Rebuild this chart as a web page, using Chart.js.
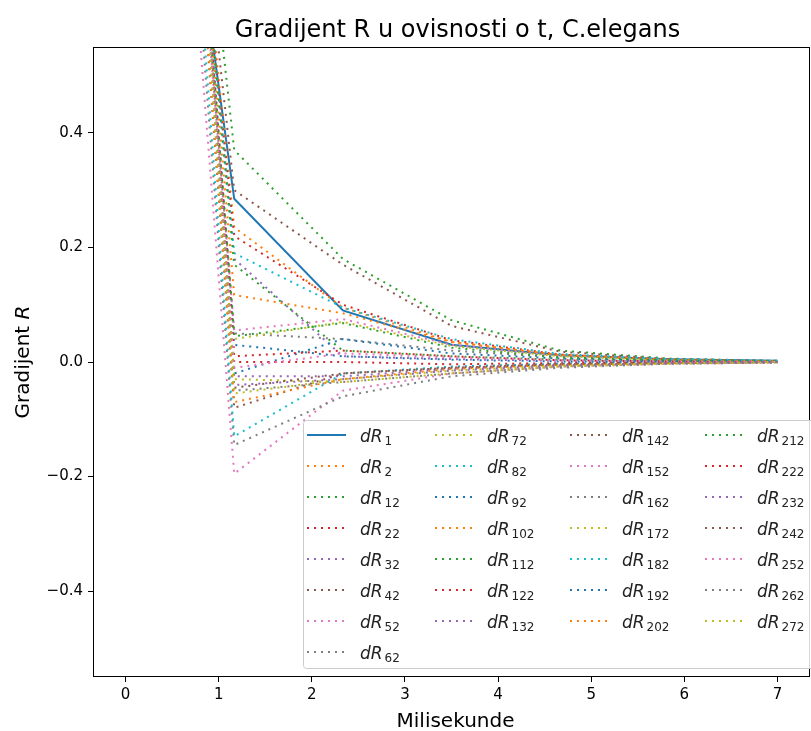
<!DOCTYPE html>
<html>
<head>
<meta charset="utf-8">
<script src="https://cdn.jsdelivr.net/npm/chart.js@4/dist/chart.umd.min.js"></script>
<style>
  html, body { margin: 0; padding: 0; background: #fff; }
  #wrap { width: 811px; height: 731px; }
</style>
</head>
<body>
<div id="wrap"><canvas id="chart" width="811" height="731"></canvas></div>
<script>
// time points (ms)
const times = [0, 1.1667, 2.3333, 3.5, 4.6667, 5.8333, 7];
const subscripts = ['1', '2', '12', '22', '32', '42', '52', '62', '72', '82',
    '92', '102', '112', '122', '132', '142', '152', '162', '172', '182',
    '192', '202', '212', '222', '232', '242', '252', '262', '272'];
const xTicks = [0, 1, 2, 3, 4, 5, 6, 7];
const yTicks = [-0.4, -0.2, 0, 0.2, 0.4];

const dR1   = [1.66, 0.285, 0.09, 0.03, 0.012, 0.005, 0.002];
const dR2   = [2.05, 0.235, 0.095, 0.035, 0.012, 0.004, 0.001];
const dR12  = [2.1, 0.37, 0.18, 0.073, 0.02, 0.006, 0.002];
const dR22  = [2.0, 0.22, 0.10, 0.038, 0.013, 0.004, 0.001];
const dR32  = [2.2, 0.18, 0.01, 0.005, 0.002, 0.001, 0.0];
const dR42  = [2.0, 0.30, 0.17, 0.063, 0.018, 0.005, 0.002];
const dR52  = [2.3, 0.055, 0.075, 0.03, 0.01, 0.003, 0.001];
const dR62  = [2.4, 0.05, 0.04, 0.02, 0.008, 0.003, 0.001];
const dR72  = [2.5, 0.04, 0.07, 0.028, 0.01, 0.003, 0.001];
const dR82  = [2.1, 0.19, 0.095, 0.04, 0.014, 0.005, 0.002];
const dR92  = [2.6, -0.02, 0.04, 0.015, 0.006, 0.002, 0.001];
const dR102 = [2.3, 0.117, 0.085, 0.035, 0.012, 0.004, 0.001];
const dR112 = [2.2, 0.17, 0.02, 0.01, 0.004, 0.001, 0.0];
const dR122 = [2.6, 0.0, 0.0, -0.004, -0.002, -0.001, 0.0];
const dR132 = [2.7, -0.025, -0.025, -0.012, -0.005, -0.002, 0.0];
const dR142 = [2.5, -0.08, -0.02, -0.01, -0.004, -0.001, 0.0];
const dR152 = [2.2, -0.195, -0.05, -0.02, -0.008, -0.003, -0.001];
const dR162 = [2.3, -0.145, -0.06, -0.025, -0.01, -0.003, -0.001];
const dR172 = [2.7, -0.03, -0.035, -0.02, -0.008, -0.003, -0.001];
const dR182 = [2.4, -0.13, -0.02, -0.008, -0.003, -0.001, 0.0];
const dR192 = [2.6, 0.03, 0.01, 0.004, 0.001, 0.0, 0.0];
const dR202 = [2.5, -0.07, -0.03, -0.012, -0.005, -0.002, 0.0];
const dR212 = [2.5, 0.045, 0.068, 0.025, 0.008, 0.003, 0.001];
const dR222 = [2.6, 0.01, 0.02, 0.01, 0.003, 0.001, 0.0];
const dR232 = [2.6, -0.04, -0.03, -0.015, -0.006, -0.002, 0.0];
const dR242 = [2.6, -0.045, -0.02, -0.01, -0.004, -0.001, 0.0];
const dR252 = [2.6, -0.01, 0.015, 0.008, 0.003, 0.001, 0.0];
const dR262 = [2.6, -0.05, -0.035, -0.02, -0.008, -0.003, -0.001];
const dR272 = [2.6, -0.055, -0.03, -0.015, -0.006, -0.002, 0.0];

const series = [dR1, dR2, dR12, dR22, dR32, dR42, dR52, dR62, dR72, dR82,
    dR92, dR102, dR112, dR122, dR132, dR142, dR152, dR162, dR172, dR182,
    dR192, dR202, dR212, dR222, dR232, dR242, dR252, dR262, dR272];

const palette = ['#1f77b4', '#ff7f0e', '#2ca02c', '#d62728', '#9467bd',
    '#8c564b', '#e377c2', '#7f7f7f', '#bcbd22', '#17becf'];

const FONT = '"DejaVu Sans", sans-serif';

const datasets = series.map((vals, i) => ({
    label: 'dR' + subscripts[i],
    data: vals.map((v, k) => ({ x: times[k], y: v })),
    borderColor: palette[i % 10],
    backgroundColor: palette[i % 10],
    borderWidth: 2,
    borderDash: i === 0 ? [] : [2, 5],
    borderCapStyle: 'butt',
    pointRadius: 0,
    tension: 0,
    fill: false,
    order: 29 - i
}));

function drawDR(ctx, x, y, sub) {
    ctx.fillStyle = '#222';
    ctx.textBaseline = 'alphabetic';
    ctx.textAlign = 'left';
    ctx.font = 'oblique 17px ' + FONT;
    ctx.fillText('dR', x, y);
    const w = ctx.measureText('dR').width;
    ctx.font = '12px ' + FONT;
    ctx.fillText(sub, x + w + 2, y + 3);
}

const decorations = {
    id: 'decorations',
    afterDatasetsDraw(chart) {
        const ctx = chart.ctx;
        const a = chart.chartArea;
        ctx.save();
        // frame
        ctx.strokeStyle = '#000';
        ctx.lineWidth = 1;
        ctx.strokeRect(a.left + 0.5, a.top + 0.5, a.right - a.left - 1, a.bottom - a.top - 1);

        // legend box
        const bx = 303, by = 420, bw = 520, bh = 248;
        ctx.fillStyle = 'rgba(255,255,255,0.85)';
        ctx.strokeStyle = '#cccccc';
        ctx.lineWidth = 1;
        ctx.beginPath();
        ctx.roundRect(bx + 0.5, by + 0.5, bw, bh, 3);
        ctx.fill();
        ctx.stroke();

        const colLine = [307, 435, 570, 705];
        const colText = [360, 487, 622, 757];
        const counts = [8, 7, 7, 7];
        let idx = 0;
        for (let c = 0; c < 4; c++) {
            for (let r = 0; r < counts[c]; r++) {
                const ds = chart.data.datasets[idx];
                const y = 435 + 31 * r;
                ctx.strokeStyle = ds.borderColor;
                ctx.lineWidth = ds.borderWidth;
                ctx.setLineDash(ds.borderDash);
                ctx.lineCap = ds.borderCapStyle;
                ctx.beginPath();
                ctx.moveTo(colLine[c], y);
                ctx.lineTo(colLine[c] + 39, y);
                ctx.stroke();
                ctx.setLineDash([]);
                drawDR(ctx, colText[c], y + 7, subscripts[idx]);
                idx++;
            }
        }

        // title
        const cx = (a.left + a.right) / 2;
        ctx.fillStyle = '#000';
        ctx.textAlign = 'center';
        ctx.textBaseline = 'alphabetic';
        ctx.font = '24px ' + FONT;
        ctx.fillText('Gradijent R u ovisnosti o t, C.elegans', cx + 6, 37);

        // x axis title
        ctx.font = '20px ' + FONT;
        ctx.fillText('Milisekunde', cx + 4, 727);

        // y axis title with italic R
        ctx.translate(29, (a.top + a.bottom) / 2);
        ctx.rotate(-Math.PI / 2);
        ctx.textAlign = 'left';
        ctx.font = '20px ' + FONT;
        const t1 = 'Gradijent ';
        const w1 = ctx.measureText(t1).width;
        ctx.font = 'oblique 20px ' + FONT;
        const w2 = ctx.measureText('R').width;
        const start = -(w1 + w2) / 2;
        ctx.font = '20px ' + FONT;
        ctx.fillText(t1, start, 0);
        ctx.font = 'oblique 20px ' + FONT;
        ctx.fillText('R', start + w1, 0);
        ctx.restore();
    }
};

new Chart(document.getElementById('chart').getContext('2d'), {
    type: 'line',
    data: { datasets: datasets },
    options: {
        responsive: false,
        animation: false,
        layout: { padding: { top: 47, right: 1, bottom: 0, left: 0 } },
        plugins: {
            legend: { display: false },
            title: { display: false },
            tooltip: { enabled: false }
        },
        scales: {
            x: {
                type: 'linear',
                min: -0.35,
                max: 7.35,
                afterFit: (scale) => { scale.height = 54; },
                afterBuildTicks: (scale) => { scale.ticks = xTicks.map(v => ({ value: v })); },
                ticks: {
                    color: '#000',
                    font: { family: FONT, size: 15 },
                    padding: 4,
                    maxRotation: 0,
                    callback: (v) => String(v)
                },
                grid: { drawOnChartArea: false, drawTicks: true, tickLength: 5, color: '#000' },
                border: { display: false }
            },
            y: {
                type: 'linear',
                min: -0.55,
                max: 0.55,
                afterFit: (scale) => { scale.width = 93; },
                afterBuildTicks: (scale) => { scale.ticks = yTicks.map(v => ({ value: v })); },
                ticks: {
                    color: '#000',
                    font: { family: FONT, size: 15 },
                    padding: 5,
                    callback: (v) => (v < 0 ? '\u2212' : '') + Math.abs(v).toFixed(1)
                },
                grid: { drawOnChartArea: false, drawTicks: true, tickLength: 5, color: '#000' },
                border: { display: false }
            }
        }
    },
    plugins: [decorations]
});
</script>
</body>
</html>
